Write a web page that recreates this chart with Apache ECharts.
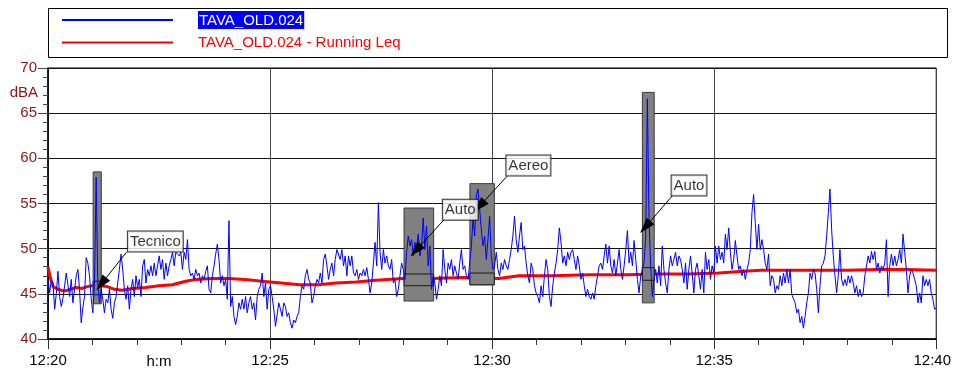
<!DOCTYPE html>
<html><head><meta charset="utf-8">
<script src="https://cdn.jsdelivr.net/npm/echarts@6/dist/echarts.min.js"></script>
<style>html,body{margin:0;padding:0;background:#fff}#c{width:954px;height:374px}</style>
</head><body><div id="c"></div>
<script>
// ---------- data ----------
const xTickLabels = ['12:20', '12:25', '12:30', '12:35', '12:40'];
const durationS = 1200;
const seriesNames = ['TAVA_OLD.024', 'TAVA_OLD.024 - Running Leq'];

// 12:20 - 12:25
const levelsA = [46.5,45.1,46.5,46.2,43.3,45.0,47.5,44.7,43.6,44.5,45.9,47.3,46.0,44.7,46.6,44.0,45.5,47.0,47.7,45.5,
41.8,43.5,44.7,49.0,48.4,47.0,44.5,42.9,46.2,57.9,
46.2,44.0,45.5,44.4,42.9,44.4,44.0,45.5,43.3,42.3,44.0,44.7,46.2,47.7,49.4,47.7,45.5,44.4,45.9,43.3,
45.5,46.6,44.7,47.0,45.7,46.6,44.7,48.1,48.8,46.2,47.7,47.0,48.1,47.0,48.4,47.0,48.1,49.2,47.7,48.8,
46.6,48.4,47.0,48.1,48.8,49.6,48.1,49.6,49.7,49.2,49.6,47.7,49.6,48.8,51.0,47.7,47.0,47.3,46.6,47.7,
47.0,47.3,46.2,47.0,46.6,47.5,48.1,45.5,45.1,47.0,48.1,49.4,50.5,48.8,46.2,47.0,45.9,46.6,44.4,53.1,
43.6,44.7,42.5,41.6,42.5,44.0,43.3,44.4,43.3,44.7,42.9,44.0,44.7,43.3,44.0,42.1,44.7,45.5,45.9,47.3,
44.7,46.2,43.3,45.5,45.9];
// 12:25 - 12:30
const levelsB = [44.7,43.3,41.4,41.4,44.0,43.3,42.5,44.0,43.6,42.5,
42.9,41.8,41.2,42.1,41.8,42.5,42.9,44.7,45.9,45.5,
47.0,47.7,46.6,46.2,44.0,44.7,45.9,46.6,46.2,47.3,
46.2,48.8,49.4,48.1,46.6,47.7,48.4,47.0,48.8,49.9,
49.9,48.8,49.9,48.1,49.2,47.0,49.2,48.1,49.2,47.3,
47.0,47.7,46.6,47.3,47.0,47.7,47.0,47.9,46.6,45.1,
46.2,48.4,50.7,48.1,55.1,49.6,47.7,49.9,48.4,49.2,
48.1,47.7,48.8,46.2,46.6,44.7,45.5,47.0,48.4,47.7,
46.6,49.6,51.4,50.3,51.0,49.2,50.7,49.9,51.6,49.2,
50.3,53.4,49.9,52.5,48.1,50.3,45.5,47.0,46.2,44.4,
45.5,47.0,45.9,49.9,47.7,46.2,48.4,47.7,48.8,47.0,
48.1,47.3,46.6,48.4,49.9,47.7,48.1,47.0,46.6,48.4,
50.3,53.3,51.4,55.9,56.6,54.4,52.1,50.3,51.4,48.8,
51.0,53.6,49.2,47.7];
// 12:30 - 12:35
const levelsC = [48.1,49.6,47.7,47.0,48.4,47.7,48.8,48.1,47.7,48.8,
49.9,51.4,53.6,51.0,49.6,51.4,52.9,49.9,50.3,48.4,
47.0,46.2,48.4,47.7,45.9,45.1,44.7,44.0,45.9,44.7,
47.0,48.8,47.7,44.7,43.6,45.9,47.3,48.4,49.9,52.3,
50.7,48.4,49.2,48.1,49.6,48.8,49.6,49.9,48.8,47.7,
49.2,48.1,46.6,47.3,45.9,44.7,45.5,44.7,44.4,45.1,
44.4,45.9,47.0,48.1,48.4,47.7,49.2,50.5,48.4,50.3,
48.1,47.3,48.8,47.0,48.4,49.9,47.7,46.6,48.1,49.9,
52.0,48.4,49.6,48.1,50.9,48.8,46.6,45.1,47.0,47.7,
48.4,51.4,66.6,53.3,48.1,44.7,46.6,47.7,46.2,48.1,
45.9,50.3,47.7,46.2,45.1,47.7,49.2,48.1,48.8,49.6,
48.1,49.2,48.8,47.7,46.2,48.4,45.5,47.7,49.2,47.3,
45.1,47.7,48.4,47.0,45.5,47.7,45.1,49.6,47.7,48.8,
46.6,48.1,47.3,50.3];
// 12:35 - 12:40
const levelsD = [48.4,50.3,48.8,49.6,48.4,51.6,49.9,52.3,49.6,47.7,
48.8,50.9,49.2,47.7,48.1,47.0,47.7,46.6,47.7,48.4,
49.9,54.0,56.0,52.9,49.9,52.7,49.9,51.0,49.9,48.4,
47.7,49.4,45.9,47.0,46.6,45.1,45.9,45.5,47.0,45.9,
47.3,46.2,47.7,46.2,47.7,44.9,44.7,44.0,42.9,43.3,
41.8,42.5,41.2,42.5,44.0,45.1,47.3,46.6,47.7,47.3,
45.5,42.9,45.9,48.1,48.4,49.2,51.4,54.0,56.6,52.1,
49.2,47.0,45.1,47.0,49.9,46.6,45.9,46.6,45.9,47.0,
46.2,47.0,46.2,45.1,45.9,44.7,45.5,44.7,45.1,47.0,
48.1,49.2,48.4,49.7,48.8,49.7,47.7,48.4,47.3,48.1,
47.7,48.4,51.0,44.7,48.1,49.4,48.1,49.2,48.1,48.8,
49.9,48.4,51.6,49.6,47.7,45.1,47.0,47.7,47.3,46.6,
45.9,44.0,45.1,44.0,47.0,45.9,46.6,45.9,46.6,45.1,
44.4,43.3,43.4];

// running Leq (time in seconds from 12:20, value in dBA)
const leqTimes = [0,3,7,14,22,30,38,46,53,60,70,80,90,100,115,132,150,168,186,200,222,244,266,289,315,340,365,389,416,443,479,520,560,609,636,680,731,780,821,865,906,940,963,1000,1040,1080,1120,1160,1200];
const leqValues = [48.0,46.8,45.8,45.5,45.3,45.5,45.7,45.6,45.8,45.9,45.9,45.8,45.5,45.4,45.6,45.7,45.9,46.0,46.4,46.6,46.7,46.7,46.6,46.4,46.2,46.0,46.0,46.2,46.3,46.5,46.7,46.7,46.8,46.7,47.0,47.0,47.1,47.1,47.2,47.2,47.3,47.5,47.6,47.6,47.6,47.6,47.7,47.7,47.6];

// marked events
const eventNames   = ['Tecnico', 'Auto', 'Aereo', 'Auto'];
const eventStartS  = [61, 481, 570, 803];
const eventEndS    = [72, 521, 603, 819];
const eventMaxDb   = [58.5, 54.5, 57.2, 67.3];
const eventMinDb   = [43.9, 44.2, 46.0, 44.0];
const eventLeqHiDb = [46.4, 47.2, 47.3, 47.9];
const eventLeqLoDb = [44.9, 45.9, 46.0, 46.5];
const labelTimeS   = [145, 557, 649, 866];
const labelDb      = [50.8, 54.3, 59.2, 57.0];
const arrowFromS   = [106, 535, 620, 844];
const arrowFromDb  = [49.6, 53.2, 58.0, 55.9];
const arrowToS     = [72, 497, 583, 807];
const arrowToDb    = [46.1, 49.8, 54.7, 52.4];

// ---------- build ----------
const levels = levelsA.concat(levelsB, levelsC, levelsD);
const stepS = durationS / (levels.length - 1);
const blueData = levels.map((v, i) => [i * stepS, v]);
const leqData = leqTimes.map((t, i) => [t, leqValues[i]]);

const outerAreas = eventNames.map((n, i) => [
  { xAxis: eventStartS[i], yAxis: eventMaxDb[i] },
  { xAxis: eventEndS[i], yAxis: eventMinDb[i] }
]);
const innerAreas = eventNames.map((n, i) => [
  { xAxis: eventStartS[i], yAxis: eventLeqHiDb[i] },
  { xAxis: eventEndS[i], yAxis: eventLeqLoDb[i] }
]);
const arrows = eventNames.map((n, i) => [
  { coord: [arrowFromS[i], arrowFromDb[i]] },
  { coord: [arrowToS[i], arrowToDb[i]] }
]);
const labels = eventNames.map((n, i) => ({ value: [labelTimeS[i], labelDb[i]], name: n }));

const FONT = '"Liberation Sans", Arial, sans-serif';
const DARKRED = '#8a1616';

const chart = echarts.init(document.getElementById('c'), null, { renderer: 'canvas' });
chart.setOption({
  animation: false,
  backgroundColor: '#fff',
  textStyle: { fontFamily: FONT },
  grid: { left: 48, right: 16, top: 68, bottom: 35, show: true, borderColor: '#000', borderWidth: 1 },
  legend: {
    orient: 'vertical', left: 61, top: 11, padding: 0,
    itemWidth: 111, itemHeight: 18, itemGap: 6, selectedMode: false,
    itemStyle: { opacity: 0 },
    data: seriesNames,
    formatter: name => name === seriesNames[0] ? '{g|}{a|' + name + '}' : '{g|}{b|' + name + '}',
    textStyle: {
      fontFamily: FONT, fontSize: 15,
      rich: {
        g: { width: 20 },
        a: { color: '#fff', backgroundColor: '#0000ff', padding: [2, 1, 1, 1], fontFamily: FONT, fontSize: 15 },
        b: { color: '#ff0000', fontFamily: FONT, fontSize: 15 }
      }
    }
  },
  graphic: [
    { type: 'rect', shape: { x: 48.5, y: 8.5, width: 899, height: 49 }, style: { fill: 'none', stroke: '#000', lineWidth: 1 }, silent: true },
    { type: 'text', x: 38, y: 93, style: { text: 'dBA', fill: DARKRED, font: '15px ' + FONT, align: 'right', verticalAlign: 'middle' }, silent: true },
    { type: 'text', x: 159, y: 362, style: { text: 'h:m', fill: '#000', font: '15px ' + FONT, align: 'center', verticalAlign: 'middle' }, silent: true }
  ],
  xAxis: {
    type: 'value', min: 0, max: durationS, interval: 300,
    axisLine: { lineStyle: { color: '#000', width: 1.5 } },
    axisTick: { length: 10, lineStyle: { color: '#333' } },
    minorTick: { show: true, splitNumber: 5, length: 6, lineStyle: { color: '#333' } },
    splitLine: { show: true, lineStyle: { color: '#444', width: 1 } },
    axisLabel: {
      margin: 14, color: '#000', fontSize: 15, fontFamily: FONT,
      formatter: v => {
        const s = xTickLabels[Math.round(v / 300)] || '';
        return v >= durationS ? '{r|' + s + '}' : s;
      },
      rich: { r: { padding: [0, 8, 0, 0], fontSize: 15, fontFamily: FONT, color: '#000' } }
    }
  },
  yAxis: {
    type: 'value', min: 40, max: 70, interval: 5,
    axisLine: { show: true, lineStyle: { color: '#000', width: 1.5 } },
    axisTick: { show: true, length: 10, lineStyle: { color: '#444' } },
    minorTick: { show: true, splitNumber: 5, length: 5, lineStyle: { color: '#444' } },
    splitLine: { show: true, lineStyle: { color: '#111', width: 1 } },
    axisLabel: { margin: 11, color: DARKRED, fontSize: 15, fontFamily: FONT }
  },
  series: [
    {
      name: seriesNames[1], type: 'line', data: leqData, z: 1,
      showSymbol: false, symbol: 'none', smooth: false,
      lineStyle: { color: '#ff0000', width: 3 }, itemStyle: { color: '#ff0000' }
    },
    {
      name: 'events', type: 'line', data: [], z: 2, silent: true,
      markArea: {
        silent: true, z: 2,
        itemStyle: { color: '#808080', borderColor: '#3a3a3a', borderWidth: 1 },
        label: { show: false },
        data: outerAreas
      }
    },
    {
      name: 'eventLeq', type: 'line', data: [], z: 3, silent: true,
      markArea: {
        silent: true, z: 3,
        itemStyle: { color: '#808080', borderColor: '#1a1a1a', borderWidth: 1 },
        label: { show: false },
        data: innerAreas
      }
    },
    {
      name: seriesNames[0], type: 'line', data: blueData, z: 4,
      showSymbol: false, symbol: 'none',
      lineStyle: { color: '#0000ff', width: 1 }, itemStyle: { color: '#0000ff' },
      markLine: {
        silent: true, z: 5,
        symbol: ['none', 'triangle'], symbolSize: [10, 16],
        lineStyle: { color: '#000', width: 1, type: 'solid' },
        itemStyle: { color: '#000' },
        label: { show: false },
        data: arrows
      }
    },
    {
      name: 'labels', type: 'scatter', data: labels, z: 6, silent: true,
      symbolSize: 0, itemStyle: { color: 'rgba(0,0,0,0)' },
      label: {
        show: true, position: 'inside', formatter: p => p.name,
        color: '#000', fontSize: 15, fontFamily: FONT, lineHeight: 17,
        backgroundColor: '#fff', borderColor: '#000', borderWidth: 1, padding: [2, 2, 1, 2]
      }
    }
  ]
});
</script>
</body></html>
